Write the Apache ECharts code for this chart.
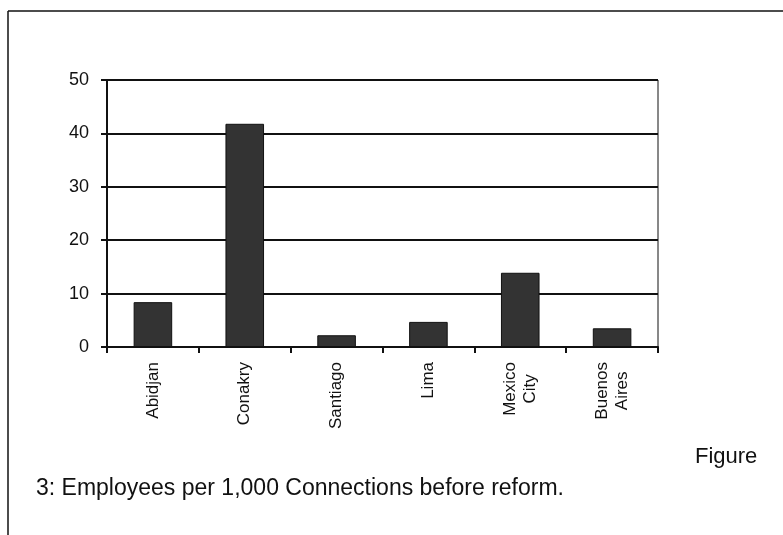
<!DOCTYPE html>
<html>
<head>
<meta charset="utf-8">
<script src="https://cdn.jsdelivr.net/npm/echarts@6/dist/echarts.min.js"></script>
<style>
  html, body { margin: 0; padding: 0; background: #ffffff; }
  #chart { width: 783px; height: 535px; }
</style>
</head>
<body>
<div id="chart"></div>
<script>
// Employees per 1,000 connections, by city, before reform
const cities = ['Abidjan', 'Conakry', 'Santiago', 'Lima', 'Mexico\nCity', 'Buenos\nAires'];
const employees = [8.4, 41.8, 2.2, 4.7, 13.9, 3.5];
const yTicks = { min: 0, max: 50, step: 10 };
const captionHead = 'Figure';
const captionBody = '3: Employees per 1,000 Connections before reform.';

const FONT = '"Liberation Sans", Arial, sans-serif';
const chart = echarts.init(document.getElementById('chart'), null, { renderer: 'canvas' });

chart.setOption({
  backgroundColor: '#ffffff',
  animation: false,
  title: [
    { text: captionHead, left: 690, top: 441,
      textStyle: { fontFamily: FONT, fontSize: 22, fontWeight: 'normal', color: '#111' } },
    { text: captionBody, left: 31, top: 472,
      textStyle: { fontFamily: FONT, fontSize: 23, fontWeight: 'normal', color: '#111' } }
  ],
  graphic: [
    // page frame: top rule and left rule
    { type: 'line', shape: { x1: 8, y1: 11, x2: 783, y2: 11 },
      style: { stroke: '#111', lineWidth: 1.5 } },
    { type: 'line', shape: { x1: 8, y1: 11, x2: 8, y2: 535 },
      style: { stroke: '#111', lineWidth: 1.5 } }
  ],
  grid: { left: 107, right: 125, top: 80, bottom: 188, show: true,
          borderColor: '#111', borderWidth: 1, backgroundColor: 'transparent' },
  xAxis: {
    type: 'category',
    data: cities,
    boundaryGap: true,
    axisLine: { show: true, lineStyle: { color: '#111', width: 2 } },
    axisTick: { show: true, length: 6, lineStyle: { color: '#111', width: 2 } },
    axisLabel: {
      rotate: 90, margin: 15, fontFamily: FONT, fontSize: 17, color: '#111',
      formatter: v => v.split('\n').map(s => '{c|' + s + '}').join('\n'),
      rich: { c: { align: 'center', fontFamily: FONT, fontSize: 17, color: '#111', lineHeight: 20 } }
    }
  },
  yAxis: {
    type: 'value',
    min: yTicks.min, max: yTicks.max, interval: yTicks.step,
    axisLine: { show: true, lineStyle: { color: '#111', width: 2 } },
    axisTick: { show: true, length: 6, lineStyle: { color: '#111', width: 2 } },
    axisLabel: { margin: 18, fontFamily: FONT, fontSize: 18, color: '#111' },
    splitLine: { show: true, lineStyle: { color: '#111', width: 2 } }
  },
  series: [{
    type: 'bar',
    data: employees,
    barWidth: '42%',
    itemStyle: { color: '#333333', borderColor: '#111', borderWidth: 1 }
  }]
});
</script>
</body>
</html>
